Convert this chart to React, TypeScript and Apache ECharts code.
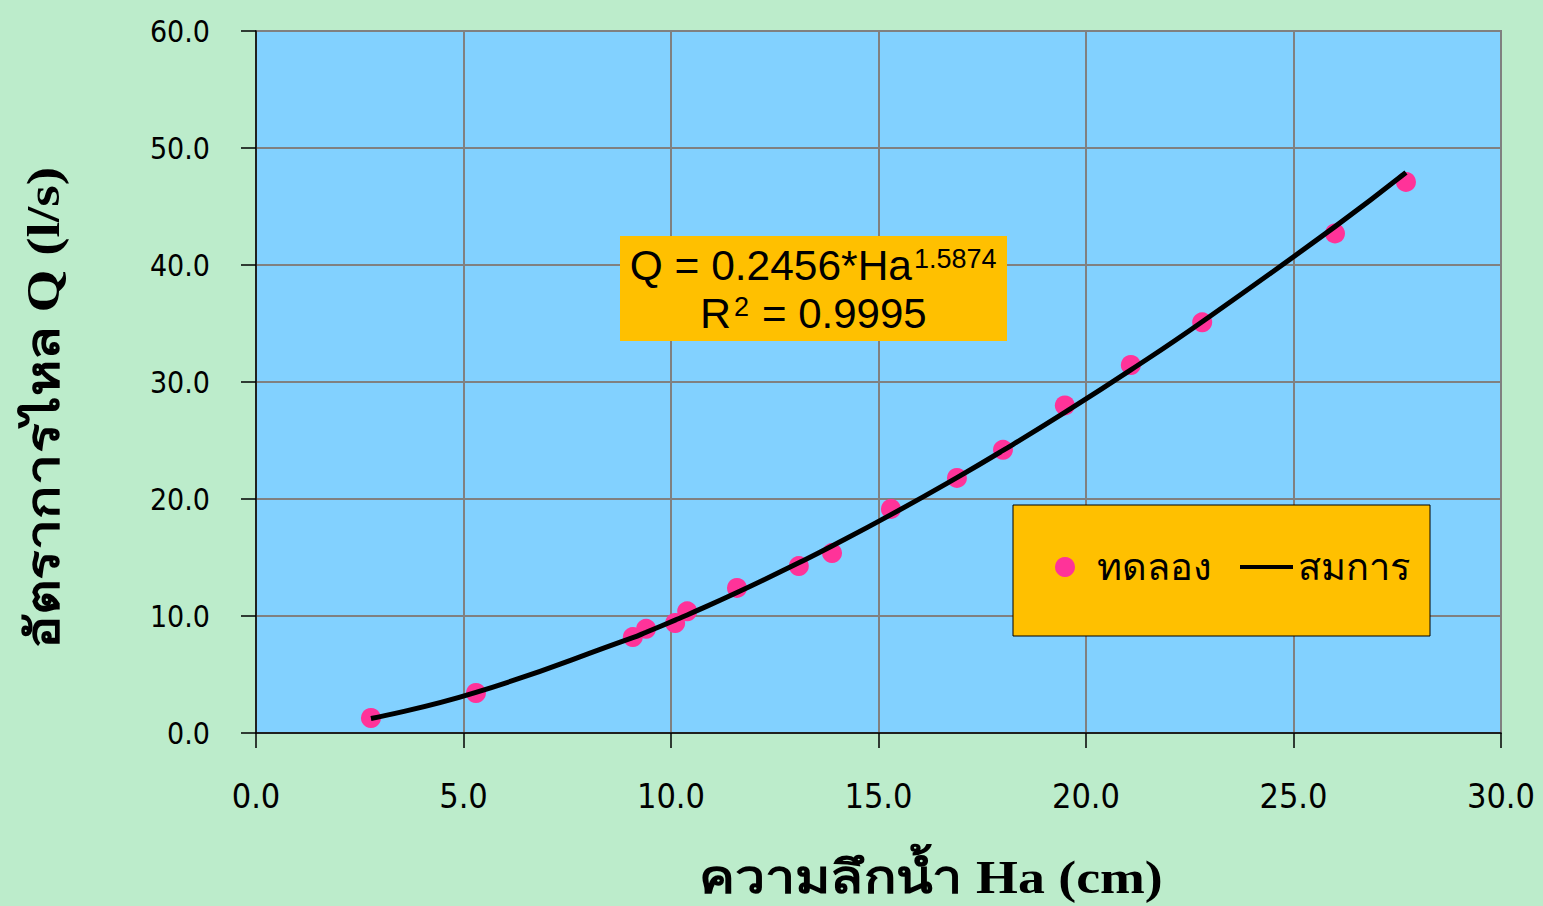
import React, { useEffect, useRef } from "react";
import * as echarts from "echarts";

// Experimental points (ทดลอง)
const haExp = [2.77, 5.3, 9.08, 9.4, 10.1, 10.39, 11.59, 13.08, 13.88, 15.3, 16.89, 18.0, 19.49, 21.08, 22.8, 26.0, 27.71];
const qExp = [1.28, 3.42, 8.2, 8.9, 9.4, 10.4, 12.4, 14.27, 15.38, 19.15, 21.8, 24.2, 28.0, 31.45, 35.1, 42.7, 47.1];

// Fitted curve (สมการ)
const haFit = [2.77, 5.3, 9.08, 9.4, 10.1, 10.39, 11.59, 13.08, 13.88, 15.3, 16.89, 18.0, 19.49, 21.08, 22.8, 26.0, 27.71];
const qFit = [1.24, 3.47, 8.15, 8.61, 9.65, 10.09, 12.0, 14.55, 15.98, 18.66, 21.83, 24.15, 27.4, 31.03, 35.15, 43.28, 47.9];

const seriesNames = ["ทดลอง", "สมการ"];
const xTitle = "ความลึกน้ำ Ha (cm)";
const yTitle = "อัตราการไหล Q (l/s)";
const eqMain = "Q = 0.2456*Ha";
const eqExp = "1.5874";
const r2Main = "R";
const r2Exp = "2";
const r2Val = "= 0.9995";

export default function App() {
  const ref = useRef<HTMLDivElement>(null);
  useEffect(() => {
    const chart = echarts.init(ref.current!, null, { renderer: "svg" });
    const tickFamily = "'DejaVu Sans Condensed', 'DejaVu Sans', sans-serif";
    const eqFont = "Liberation Sans";
    chart.setOption({
      animation: false,
      backgroundColor: "#BCECCB",
      grid: {
        left: 256,
        top: 31,
        right: 42,
        bottom: 173,
        show: true,
        backgroundColor: "#82D1FF",
        borderColor: "#808080",
        borderWidth: 2,
      },
      xAxis: {
        type: "value",
        min: 0,
        max: 30,
        interval: 5,
        axisLine: { show: true, onZero: false, lineStyle: { color: "#000", width: 1.5 } },
        axisTick: { show: true, length: 15, lineStyle: { color: "#000", width: 1.5 } },
        axisLabel: { fontFamily: tickFamily, fontSize: 34, color: "#000", margin: 46, formatter: (v: number) => v.toFixed(1) },
        splitLine: { show: true, lineStyle: { color: "#808080", width: 2 } },
      },
      yAxis: {
        type: "value",
        min: 0,
        max: 60,
        interval: 10,
        axisLine: { show: true, onZero: false, lineStyle: { color: "#000", width: 1.5 } },
        axisTick: { show: true, length: 15, lineStyle: { color: "#000", width: 1.5 } },
        axisLabel: { fontFamily: tickFamily, fontSize: 30, color: "#000", margin: 46, formatter: (v: number) => v.toFixed(1) },
        splitLine: { show: true, lineStyle: { color: "#808080", width: 2 } },
      },
      legend: [
        {
          data: [{ name: seriesNames[0], icon: "circle" }],
          left: 1055,
          top: 548,
          padding: 0,
          itemWidth: 20,
          itemHeight: 20,
          z: 10,
          textStyle: { fontSize: 38, color: "#000", padding: [0, 0, 0, 17] },
        },
        {
          data: [{ name: seriesNames[1], icon: "rect" }],
          left: 1240,
          top: 548,
          padding: 0,
          itemWidth: 53,
          itemHeight: 4,
          z: 10,
          textStyle: { fontSize: 38, color: "#000", padding: [0, 0, 0, 0] },
        },
      ],
      graphic: [
        {
          type: "rect",
          z: 5,
          shape: { x: 620, y: 236, width: 387, height: 105 },
          style: { fill: "#FFC000" },
        },
        {
          type: "text",
          z: 6,
          x: 912,
          y: 265,
          style: { text: eqMain, fontFamily: eqFont, fontSize: 42.5, fill: "#000", align: "right", verticalAlign: "middle" },
        },
        {
          type: "text",
          z: 6,
          x: 914,
          y: 259,
          style: { text: eqExp, fontFamily: eqFont, fontSize: 27, fill: "#000", align: "left", verticalAlign: "middle" },
        },
        {
          type: "text",
          z: 6,
          x: 731,
          y: 313,
          style: { text: r2Main, fontFamily: eqFont, fontSize: 43, fill: "#000", align: "right", verticalAlign: "middle" },
        },
        {
          type: "text",
          z: 6,
          x: 734,
          y: 307,
          style: { text: r2Exp, fontFamily: eqFont, fontSize: 27, fill: "#000", align: "left", verticalAlign: "middle" },
        },
        {
          type: "text",
          z: 6,
          x: 762,
          y: 313,
          style: { text: r2Val, fontFamily: eqFont, fontSize: 42, fill: "#000", align: "left", verticalAlign: "middle" },
        },
        {
          type: "rect",
          z: 5,
          shape: { x: 1013, y: 505, width: 417, height: 131 },
          style: { fill: "#FFC000", stroke: "#000", lineWidth: 1 },
        },
        {
          type: "text",
          z: 6,
          x: 931,
          y: 877,
          scaleX: 1.17,
          style: {
            text: xTitle,
            fontFamily: "Liberation Serif",
            fontWeight: "bold",
            fontSize: 46,
            fill: "#000",
            align: "center",
            verticalAlign: "middle",
          },
        },
        {
          type: "text",
          z: 6,
          x: 44,
          y: 408,
          rotation: Math.PI / 2,
          scaleX: 1.2,
          style: {
            text: yTitle,
            fontFamily: "Liberation Serif",
            fontWeight: "bold",
            fontSize: 46,
            fill: "#000",
            align: "center",
            verticalAlign: "middle",
          },
        },
      ],
      series: [
        {
          name: seriesNames[0],
          type: "scatter",
          data: haExp.map((h, i) => [h, qExp[i]]),
          symbol: "circle",
          symbolSize: 20,
          itemStyle: { color: "#FF3399", opacity: 1 },
          z: 2,
        },
        {
          name: seriesNames[1],
          type: "line",
          data: haFit.map((h, i) => [h, qFit[i]]),
          smooth: true,
          showSymbol: false,
          symbol: "none",
          lineStyle: { color: "#000", width: 5 },
          itemStyle: { color: "#000" },
          z: 3,
        },
      ],
    });
    return () => chart.dispose();
  }, []);
  return <div ref={ref} style={{ position: "fixed", left: 0, top: 0, width: 1543, height: 906 }} />;
}
